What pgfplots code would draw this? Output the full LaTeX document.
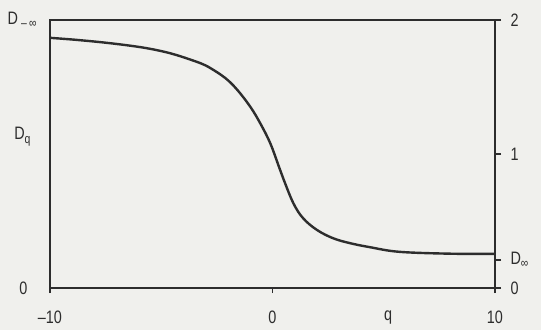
\documentclass[border=0pt]{standalone}
\usepackage{fontspec}
\setmainfont[FakeStretch=0.8]{Liberation Sans}
\usepackage{pgfplots}
\pgfplotsset{compat=1.18}
\usetikzlibrary{backgrounds}
\definecolor{paper}{RGB}{240,240,237}
\definecolor{ink}{RGB}{45,45,45}
\newcommand{\sub}[1]{\raisebox{-3.5pt}{\fontsize{13}{13}\selectfont #1}}
\newcommand{\gap}[1]{\rule{#1}{0pt}}
\begin{document}
\begin{tikzpicture}[show background rectangle, background rectangle/.style={fill=paper,draw=none}, inner frame sep=0pt]
\useasboundingbox (-50pt,-42pt) rectangle (491pt,288pt);
\pgfplotsset{
  common/.style={
    scale only axis, width=445pt, height=268pt,
    xmin=-10, xmax=10, ymin=0, ymax=2,
    at={(0,0)}, anchor=south west,
    axis line style={ink, line width=1.6pt},
    every tick/.style={ink, line width=1.4pt},
    every tick label/.append style={font=\fontsize{18}{20}\selectfont, text=ink},
  }
}
\begin{axis}[common,
  clip mode=individual,
  xtick={-10,0,10}, xticklabels={--10,0,10},
  ytick={0,1.13,2}, yticklabels={0\gap{12pt},D\sub{q}\gap{9pt},D\gap{3pt}\sub{–\,∞}\gap{3pt}},
  tick pos=left, tick align=outside,
  x tick label style={yshift=-14pt},
  y tick label style={xshift=-2pt},
  y tick style={draw=none},
  major tick length=5pt,
]
\addplot[ink, line width=2.4pt, smooth, tension=0.6] coordinates {
(-10,1.867) (-8.9,1.853) (-7.75,1.835) (-6.8,1.817) (-6.0,1.799) (-5.5,1.785)
(-5.0,1.768) (-4.6,1.752) (-4.15,1.730) (-3.7,1.705) (-3.2,1.675) (-2.8,1.642)
(-2.13,1.568) (-1.6,1.482) (-1.0,1.353) (-0.55,1.229) (-0.1,1.08) (0.3,0.90)
(0.5,0.81) (0.94,0.632) (1.38,0.52) (2.0,0.433) (2.73,0.371) (3.5,0.334)
(4.4,0.304) (5.7,0.27) (8.0,0.256) (10,0.255)
};
\node[anchor=north, font=\fontsize{18}{20}\selectfont, text=ink, yshift=-19pt] at (axis cs:5.2,0) {q};
\end{axis}
\begin{axis}[common,
  hide x axis, axis y line*=right,
  ytick={0,0.21,1,2}, yticklabels={0,D\sub{∞},1,2},
  tick align=outside, major tick length=6pt,
  y tick label style={xshift=6pt},
]
\end{axis}
\end{tikzpicture}
\end{document}
